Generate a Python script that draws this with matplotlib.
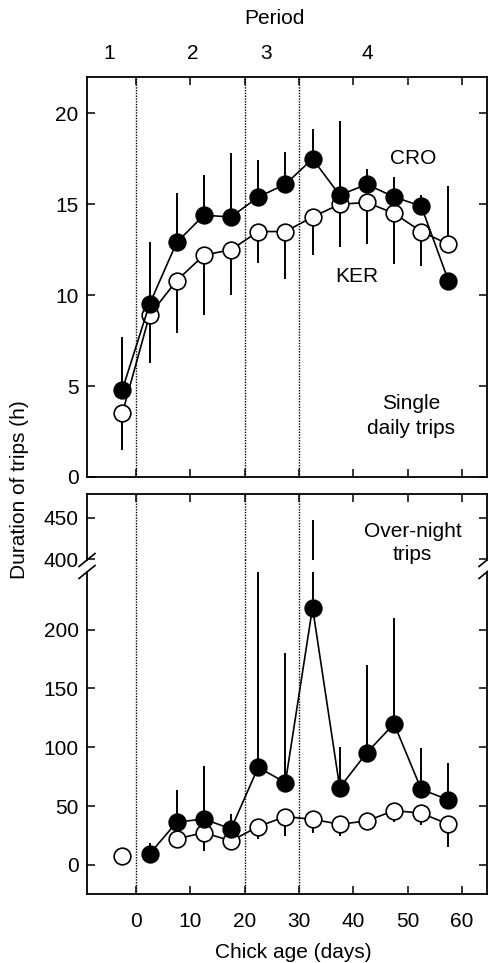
import numpy as np
import matplotlib
matplotlib.use('Agg')
import matplotlib.pyplot as plt

plt.rcParams['font.family'] = ['Liberation Sans', 'DejaVu Sans']
plt.rcParams['font.size'] = 15

# single daily trips (h)
age_top = [-2.5, 2.5, 7.5, 12.5, 17.5, 22.5, 27.5, 32.5, 37.5, 42.5, 47.5, 52.5, 57.5]
cro_top = [4.8, 9.5, 12.9, 14.4, 14.3, 15.4, 16.1, 17.5, 15.5, 16.1, 15.4, 14.9, 10.8]
cro_top_hi = [7.7, 12.9, 15.6, 16.6, 17.8, 17.45, 17.85, 19.15, 19.6, 16.95, 16.5, 15.5, 10.8]
cro_top_lo = [4.8, 9.5, 12.9, 14.4, 14.3, 15.4, 16.1, 17.5, 15.5, 16.1, 15.4, 14.9, 10.8]
ker_top = [3.5, 8.9, 10.8, 12.2, 12.5, 13.5, 13.5, 14.3, 15.0, 15.1, 14.5, 13.5, 12.8]
ker_top_lo = [1.5, 6.25, 7.9, 8.9, 10.0, 11.75, 10.9, 12.2, 12.65, 12.8, 11.7, 11.6, 12.8]
ker_top_hi = [3.5, 8.9, 10.8, 12.2, 12.5, 13.5, 13.5, 14.3, 15.0, 15.1, 14.5, 13.5, 16.0]

# over-night trips (h)
age_cro_bot = [2.5, 7.5, 12.5, 17.5, 22.5, 27.5, 32.5, 37.5, 42.5, 47.5, 52.5, 57.5]
cro_bot = [9.3, 36.3, 39.1, 30.6, 83, 70, 218.8, 65.8, 95.5, 120, 64.3, 55.3]
cro_bot_hi = [19, 63.8, 84.5, 43.4, 330, 180, 448, 100, 170, 210, 99, 86.5]
age_ker_bot = [7.5, 12.5, 17.5, 22.5, 27.5, 32.5, 37.5, 42.5, 47.5, 52.5, 57.5]
ker_bot = [22.1, 27.5, 20.4, 32.6, 41.1, 38.8, 34.6, 37.4, 46.2, 44, 34.6]
ker_bot_lo = [22.1, 12.2, 20.4, 22, 25, 27.5, 24.7, 37.4, 36.8, 34, 15.6]
ker_early_age = [-2.5]
ker_early = [7.9]

period_x = [-5, 10.5, 24, 42.5]
period_lab = ['1', '2', '3', '4']
bounds = [0, 20, 30]

W, H = 488, 963
fig = plt.figure(figsize=(W / 100, H / 100), dpi=100)
ax1 = fig.add_axes([87 / W, 1 - 477 / H, 400 / W, 400 / H])
ax2 = fig.add_axes([87 / W, 1 - 560 / H, 400 / W, 66 / H])
ax3 = fig.add_axes([87 / W, 1 - 894 / H, 400 / W, 322 / H])

mk = dict(marker='o', ms=12, mew=1.2, mec='k', color='k', lw=1.2, zorder=3)
ek = dict(ecolor='k', elinewidth=1.4, capsize=0, zorder=2)


def bars(ax, x, y, lo, hi, fill):
    y = np.array(y, float)
    err = [y - np.array(lo, float), np.array(hi, float) - y]
    ax.errorbar(x, y, yerr=err, fmt='none', **ek)
    ax.plot(x, y, mfc=fill, **mk)


bars(ax1, age_top, ker_top, ker_top_lo, ker_top_hi, 'white')
bars(ax1, age_top, cro_top, cro_top_lo, cro_top_hi, 'black')

for ax in (ax2, ax3):
    bars(ax, age_ker_bot, ker_bot, ker_bot_lo, ker_bot, 'white')
    bars(ax, age_cro_bot, cro_bot, cro_bot, cro_bot_hi, 'black')
    ax.plot(ker_early_age, ker_early, ls='none', mfc='white',
            **{k: v for k, v in mk.items() if k != 'lw'})

ax1.set_ylim(0, 22)
ax2.set_ylim(399, 479)
ax3.set_ylim(-24.7, 249)
ax1.set_yticks([0, 5, 10, 15, 20])
ax2.set_yticks([400, 450])
ax3.set_yticks([0, 50, 100, 150, 200])

for ax in (ax1, ax2, ax3):
    ax.set_xlim(-9, 64.6)
    ax.set_xticks(range(0, 61, 10))
    ax.tick_params(direction='in', length=6, width=1.1, top=True, right=True,
                   labelsize=15)
    ax.tick_params(axis='y', pad=6)
    for s in ax.spines.values():
        s.set_linewidth(1.3)

ax1.tick_params(labelbottom=False)
ax2.tick_params(labelbottom=False, bottom=False)
ax3.tick_params(top=False, pad=13, axis='x')
ax2.spines['bottom'].set_visible(False)
ax3.spines['top'].set_visible(False)

dots = dict(color='k', lw=1.0, ls=(0, (1, 1)), zorder=1)
for b in bounds:
    ax1.axvline(b, **dots)
    ax2.axvline(b, **dots)
    ax3.axvline(b, ymax=1 + 13 / 322, clip_on=False, **dots)

# break marks
for ax, h in ((ax2, 66), (ax3, 322)):
    dx, dy = 8 / 400, 6.5 / h
    y0 = 0 if ax is ax2 else 1
    for x0 in (0, 1):
        ax.plot([x0 - dx, x0 + dx], [y0 - dy, y0 + dy], color='k', lw=1.2,
                transform=ax.transAxes, clip_on=False)

for px, pl in zip(period_x, period_lab):
    ax1.text(px, 1.0575, pl, transform=ax1.get_xaxis_transform(),
             ha='center', va='center')
ax1.text(25.5, 1.1475, 'Period', transform=ax1.get_xaxis_transform(),
         ha='center', va='center')

ax1.text(51, 17.5, 'CRO', ha='center', va='center')
ax1.text(40.7, 11.0, 'KER', ha='center', va='center')
ax1.text(50.7, 3.35, 'Single\ndaily trips', ha='center', va='center',
         linespacing=1.35)
ax2.text(50.9, 419.5, 'Over-night\ntrips', ha='center', va='center',
         linespacing=1.3)

fig.text(20 / W, 1 - 490 / H, 'Duration of trips (h)', rotation=90,
         ha='center', va='center')
fig.text(293 / W, 1 - 952 / H, 'Chick age (days)', ha='center', va='center')

fig.savefig('out.png', dpi=100)
